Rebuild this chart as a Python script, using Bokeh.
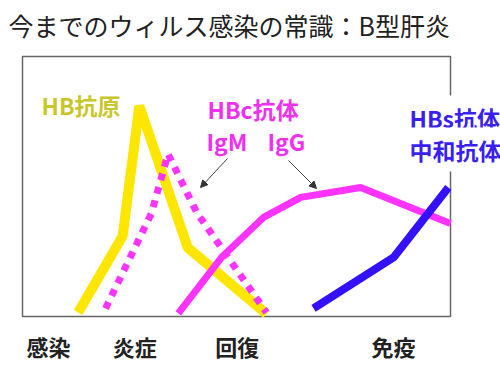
from bokeh.plotting import figure
from bokeh.models import Range1d, Label, Arrow, NormalHead, BoxAnnotation, ColumnDataSource
from bokeh.core.properties import value
from bokeh.embed import file_html
from bokeh.resources import INLINE

# ---- data (time 0-100 across the box, level 0-100) ----
hbag_t = [13.0, 23.4, 27.3, 38.6, 57.0]
hbag_v = [1.5, 31.0, 81.0, 26.5, 1.0]

igm_t = [19.4, 30.1, 34.0, 40.7, 57.0]
igm_v = [3.1, 39.6, 62.5, 40.0, 1.5]

igg_t = [36.4, 46.7, 56.3, 65.0, 79.0, 100.0]
igg_v = [1.2, 23.1, 38.1, 45.8, 49.6, 35.8]

hbs_t = [68.0, 86.7, 99.5]
hbs_v = [3.1, 22.7, 49.6]

stage_labels = ["感染", "炎症", "回復", "免疫"]
stage_pos = [6.1, 26.2, 50.2, 86.7]

title_text = "今までのウィルス感染の常識：B型肝炎"

# ---- pixel helpers (picture px -> data units) ----
SX = 4.28
SY = 2.6
def X(px):
    return (px - 22) / SX
def Y(py):
    return (316 - py) / SY

FONT = "Noto Sans CJK JP"

p = figure(width=500, height=369, output_backend="svg", toolbar_location=None,
           x_range=Range1d(X(0), X(500)), y_range=Range1d(Y(369), Y(0)),
           min_border=0, x_axis_location=None, y_axis_location=None,
           outline_line_color=None, background_fill_color="white",
           border_fill_color="white")
p.xgrid.visible = False
p.ygrid.visible = False

box = BoxAnnotation(left=0, right=100, bottom=0, top=100, fill_alpha=0,
                    line_color="#666666", line_alpha=1.0, line_width=1.5,
                    level="underlay")
p.add_layout(box)

p.line(hbag_t, hbag_v, line_color="#ffe600", line_width=10, line_join="bevel")
p.line(igm_t, igm_v, line_color="#ff33ff", line_width=7, line_dash="7 7")
p.line(igg_t, igg_v, line_color="#ff33ff", line_width=7)
p.line(hbs_t, hbs_v, line_color="#3311ff", line_width=8)

src = ColumnDataSource(dict(x=stage_pos, y=[Y(345)] * len(stage_pos), t=stage_labels))
p.text(x="x", y="y", text="t", source=src, text_font=value(FONT),
       text_font_size="22px", text_font_style="bold", text_color="#222222",
       text_align="center", text_baseline="middle")

def lab(txt, px, py, color, size="23px", style="bold", align="left", **kw):
    l = Label(x=X(px), y=Y(py), text=txt, text_font=FONT, text_font_size=size,
              text_font_style=style, text_color=color, text_align=align,
              text_baseline="middle", **kw)
    p.add_layout(l)

lab(title_text, 8, 24, "#222222", size="25px", style="normal")
lab("HB抗原", 41, 104, "#c9c62a")
lab("HBc抗体", 207, 108, "#f030f0")
lab("IgM", 206, 140, "#f030f0")
lab("IgG", 267, 140, "#f030f0")
lab("HBs抗体", 404, 117, "#3a1ff0", background_fill_color="white", padding=5)
lab("中和抗体", 404, 149, "#3a1ff0", background_fill_color="white", padding=5)

for (x0, y0, x1, y1) in [(227, 158, 200, 187), (288, 160, 316, 188)]:
    p.add_layout(Arrow(x_start=X(x0), y_start=Y(y0), x_end=X(x1), y_end=Y(y1),
                       line_color="#444444", line_width=1,
                       end=NormalHead(size=7, fill_color="#333333", line_color="#333333")))

open("out.html", "w").write(file_html(p, INLINE))
